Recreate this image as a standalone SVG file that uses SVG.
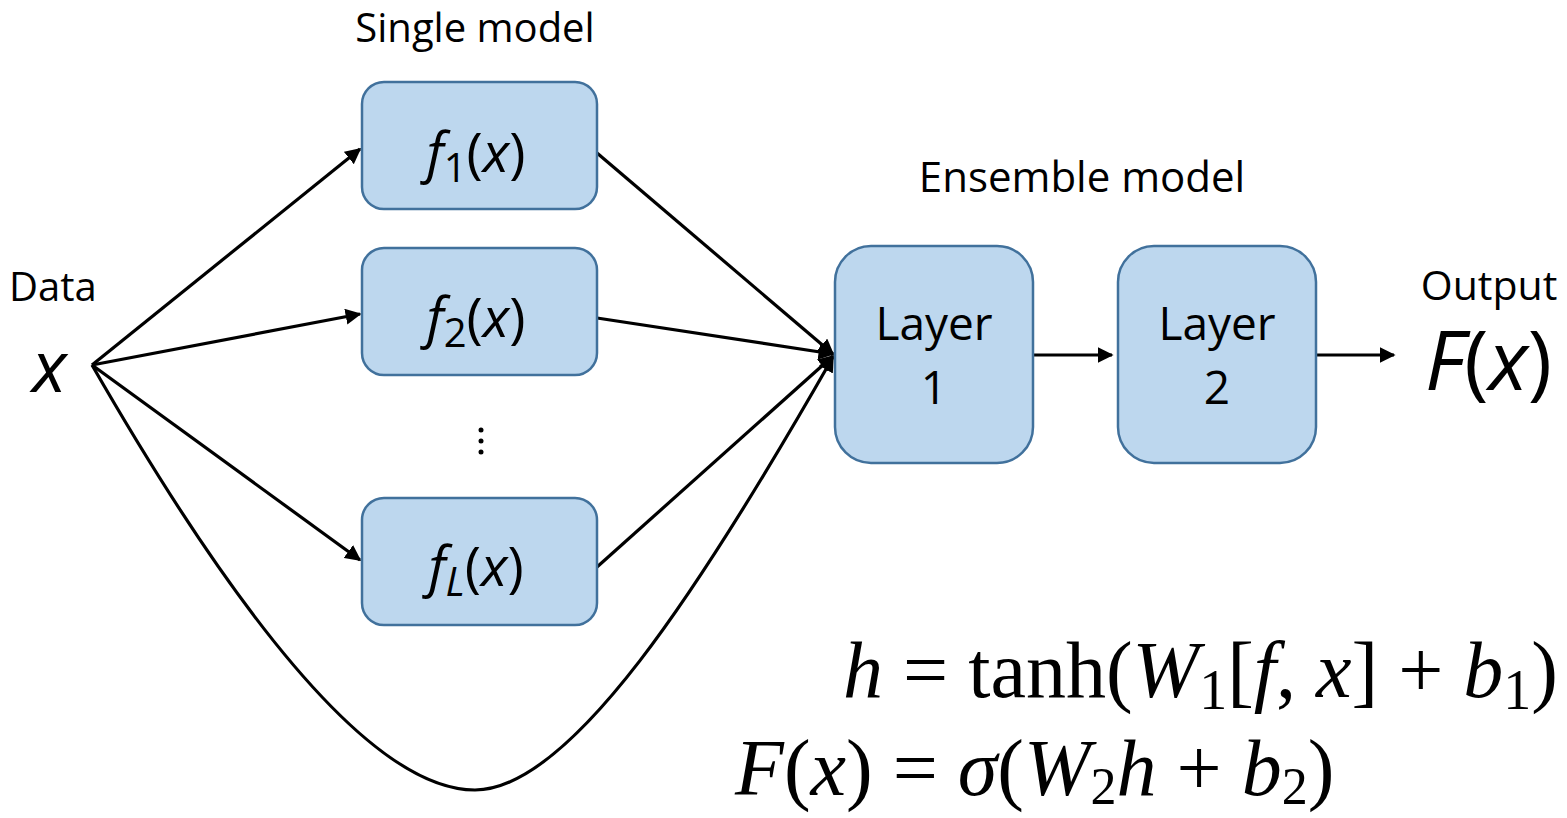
<svg xmlns="http://www.w3.org/2000/svg" width="1567" height="818" viewBox="0 0 1567 818">
  <style>
    .box { fill: #bdd7ee; stroke: #41719c; stroke-width: 2.5; }
    .lbl { font-family: "Open Sans", "Liberation Sans", sans-serif; fill: #000; }
    .it { font-style: italic; }
    .math { font-family: "Liberation Serif", "DejaVu Serif", serif; fill: #000; font-size: 80px; }
    .edge { stroke: #000; stroke-width: 3.2; fill: none; marker-end: url(#arrow); }
  </style>
  <defs>
    <marker id="arrow" viewBox="0 0 10 10" refX="9" refY="5" markerWidth="5" markerHeight="5" orient="auto" markerUnits="strokeWidth">
      <path d="M0,0 L10,5 L0,10 z" fill="#000"/>
    </marker>
  </defs>

  <rect width="1567" height="818" fill="#fff"/>

  <!-- plain labels -->
  <text class="lbl" x="475" y="42" font-size="40" text-anchor="middle">Single model</text>
  <text class="lbl" x="1082" y="192" font-size="42" text-anchor="middle">Ensemble model</text>
  <text class="lbl" x="9" y="301" font-size="40">Data</text>
  <text class="lbl" x="1489" y="300" font-size="41" text-anchor="middle">Output</text>

  <g id="input">
    <text class="lbl it" x="32" y="392" font-size="72">x</text>
  </g>

  <g id="connectors">
    <line class="edge" x1="92" y1="365" x2="360" y2="149"/>
    <line class="edge" x1="92" y1="365" x2="360" y2="314"/>
    <line class="edge" x1="92" y1="365" x2="360" y2="560"/>
    <path class="edge" d="M92,365 C250,640 380,790 475,790 C570,790 700,590 833,357"/>
    <line class="edge" x1="597" y1="153" x2="833" y2="354"/>
    <line class="edge" x1="597" y1="318" x2="833" y2="354"/>
    <line class="edge" x1="597" y1="567" x2="833" y2="356"/>
    <line class="edge" x1="1033" y1="355" x2="1112" y2="355"/>
    <line class="edge" x1="1316" y1="355" x2="1394" y2="355"/>
  </g>

  <g id="f1">
    <rect class="box" x="362" y="82" width="235" height="127" rx="22"/>
    <text class="lbl" x="476" y="172" font-size="55" text-anchor="middle"><tspan class="it">f</tspan><tspan font-size="40" dy="10">1</tspan><tspan dy="-10">(</tspan><tspan class="it">x</tspan>)</text>
  </g>
  <g id="f2">
    <rect class="box" x="362" y="248" width="235" height="127" rx="22"/>
    <text class="lbl" x="476" y="337" font-size="55" text-anchor="middle"><tspan class="it">f</tspan><tspan font-size="40" dy="10">2</tspan><tspan dy="-10">(</tspan><tspan class="it">x</tspan>)</text>
  </g>
  <g id="dots">
    <circle cx="481" cy="430" r="2.5"/>
    <circle cx="481" cy="441" r="2.5"/>
    <circle cx="481" cy="452" r="2.5"/>
  </g>
  <g id="fL">
    <rect class="box" x="362" y="498" width="235" height="127" rx="22"/>
    <text class="lbl" x="476" y="586" font-size="55" text-anchor="middle"><tspan class="it">f</tspan><tspan class="it" font-size="40" dy="10">L</tspan><tspan dy="-10">(</tspan><tspan class="it">x</tspan>)</text>
  </g>

  <g id="layer1">
    <rect class="box" x="835" y="246" width="198" height="217" rx="36"/>
    <text class="lbl" x="934" y="340" font-size="46" text-anchor="middle">Layer</text>
    <text class="lbl" x="934" y="404" font-size="46" text-anchor="middle">1</text>
  </g>
  <g id="layer2">
    <rect class="box" x="1118" y="246" width="198" height="217" rx="36"/>
    <text class="lbl" x="1217" y="340" font-size="46" text-anchor="middle">Layer</text>
    <text class="lbl" x="1217" y="404" font-size="46" text-anchor="middle">2</text>
  </g>

  <g id="output">
    <text class="lbl it" x="1425" y="390" font-size="82"><tspan>F</tspan><tspan font-style="normal">(</tspan>x<tspan font-style="normal">)</tspan></text>
  </g>

  <!-- equations -->
  <text class="math" x="1558" y="697" text-anchor="end"><tspan font-style="italic">h</tspan> = tanh(<tspan font-style="italic">W</tspan><tspan font-size="56" dy="12">1</tspan><tspan dy="-12">[</tspan><tspan font-style="italic">f</tspan>, <tspan font-style="italic">x</tspan>] + <tspan font-style="italic">b</tspan><tspan font-size="56" dy="12">1</tspan><tspan dy="-12">)</tspan></text>
  <text class="math" x="735" y="795" font-size="81"><tspan font-style="italic">F</tspan>(<tspan font-style="italic">x</tspan>) = <tspan font-style="italic">σ</tspan>(<tspan font-style="italic">W</tspan><tspan font-size="52" dy="9">2</tspan><tspan dy="-9" font-style="italic">h</tspan> + <tspan font-style="italic">b</tspan><tspan font-size="52" dy="9">2</tspan><tspan dy="-9">)</tspan></text>
</svg>
